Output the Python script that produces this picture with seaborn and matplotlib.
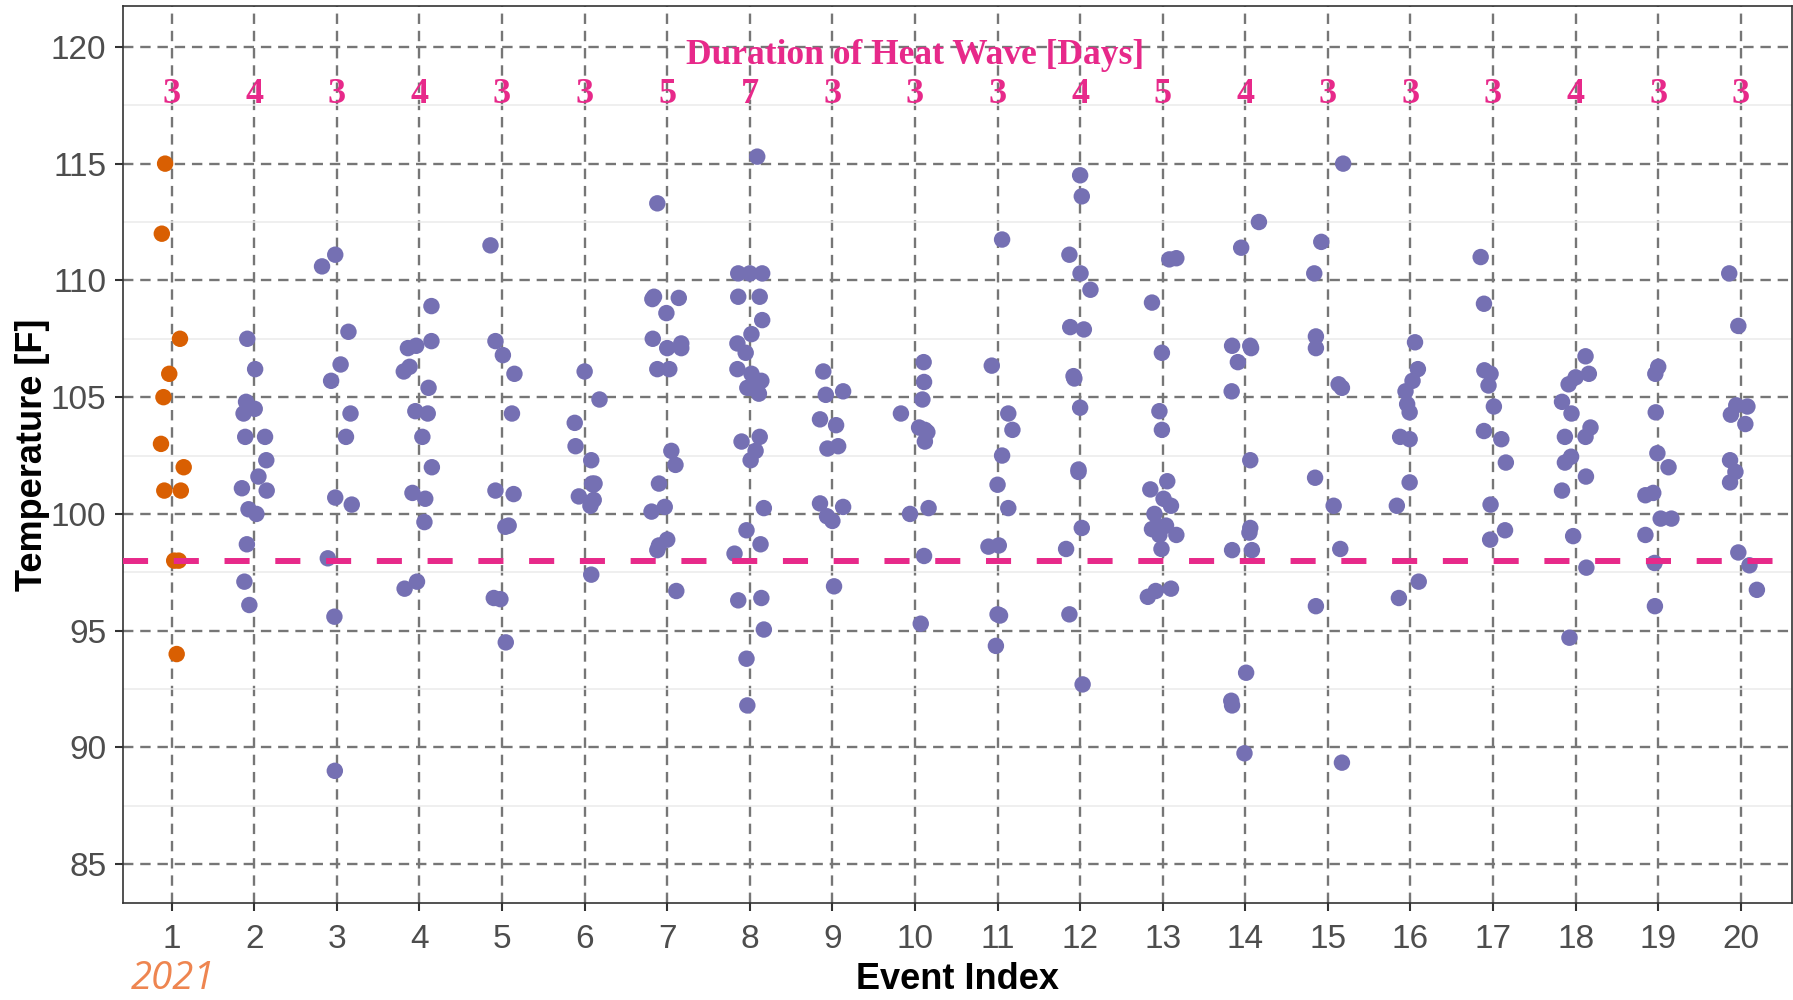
import matplotlib
matplotlib.use("Agg")
import matplotlib.pyplot as plt
import seaborn as sns
import pandas as pd

# ---------------- data ----------------
# each event: list of (temperature [F], horizontal jitter)
ev01 = [(115.0,-0.08),(112.0,-0.12),(107.5,0.10),(106.0,-0.03),(105.0,-0.10),(103.0,-0.13),(102.0,0.145),(101.0,-0.09),(101.0,0.11),(98.0,0.03),(98.0,0.085),(94.0,0.06)]
ev02 = [(107.5,-0.085),(106.2,0.01),(104.8,-0.10),(104.3,-0.13),(104.5,0.005),(103.3,-0.11),(103.3,0.13),(102.3,0.145),(101.6,0.05),(101.1,-0.15),(101.0,0.15),(100.2,-0.07),(100.0,0.025),(98.7,-0.09),(97.1,-0.12),(96.1,-0.06)]
ev03 = [(111.1,-0.02),(110.6,-0.18),(107.8,0.14),(106.4,0.045),(105.7,-0.07),(104.3,0.165),(103.3,0.11),(100.7,-0.02),(100.4,0.18),(98.1,-0.11),(95.6,-0.03),(89.0,-0.025)]
ev04 = [(108.9,0.145),(107.1,-0.14),(107.2,-0.04),(107.4,0.145),(106.3,-0.12),(106.1,-0.19),(105.4,0.11),(104.4,-0.05),(104.3,0.10),(103.3,0.035),(102.0,0.15),(100.9,-0.085),(100.65,0.07),(99.65,0.06),(97.1,-0.03),(96.8,-0.18)]
ev05 = [(111.5,-0.14),(107.4,-0.08),(106.8,0.01),(106.0,0.15),(104.3,0.12),(101.0,-0.08),(100.85,0.14),(99.45,0.04),(99.5,0.08),(96.4,-0.10),(96.35,-0.02),(94.5,0.045)]
ev06 = [(106.1,0.0),(104.9,0.18),(103.9,-0.12),(102.9,-0.11),(102.3,0.08),(101.3,0.12),(101.3,0.09),(101.25,0.105),(100.75,-0.07),(100.6,0.11),(100.35,0.07),(97.4,0.08)]
ev07 = [(113.3,-0.12),(109.2,-0.18),(109.3,-0.16),(109.25,0.14),(108.6,-0.01),(107.5,-0.175),(107.3,0.17),(107.1,0.17),(107.1,0.0),(106.2,-0.12),(106.2,0.025),(102.7,0.05),(102.1,0.10),(101.3,-0.10),(100.3,-0.03),(100.1,-0.19),(98.9,0.0),(98.65,-0.10),(98.45,-0.12),(96.7,0.11)]
ev08 = [(115.3,0.09),(110.3,-0.14),(110.3,0.0),(110.3,0.15),(109.3,-0.14),(109.3,0.12),(108.3,0.15),(107.7,0.02),(107.3,-0.15),(106.9,-0.05),(106.2,-0.15),(106.0,0.02),(105.7,0.14),(105.4,0.01),(105.15,0.11),(105.4,-0.03),(103.1,-0.10),(103.3,0.12),(102.7,0.07),(102.3,0.01),(100.25,0.17),(99.3,-0.04),(98.3,-0.185),(98.7,0.13),(96.3,-0.14),(96.4,0.14),(95.05,0.17),(93.8,-0.04),(91.8,-0.03)]
ev09 = [(106.1,-0.11),(105.1,-0.08),(105.25,0.13),(104.05,-0.15),(103.8,0.045),(102.8,-0.06),(102.9,0.07),(100.45,-0.15),(100.3,0.13),(99.9,-0.065),(99.7,0.0),(96.9,0.02)]
ev10 = [(106.5,0.105),(105.65,0.11),(104.9,0.09),(104.3,-0.17),(103.7,0.05),(103.5,0.15),(103.6,0.12),(103.1,0.12),(100.0,-0.06),(100.25,0.165),(98.2,0.11),(95.3,0.07)]
ev11 = [(111.75,0.055),(106.35,-0.07),(104.3,0.13),(103.6,0.18),(102.5,0.055),(101.25,0.0),(100.25,0.13),(98.6,-0.11),(98.65,0.015),(95.7,0.0),(95.65,0.03),(94.35,-0.02)]
ev12 = [(114.5,0.0),(113.6,0.02),(111.1,-0.13),(110.3,0.005),(109.6,0.125),(108.0,-0.12),(107.9,0.045),(105.9,-0.08),(105.8,-0.07),(104.55,0.0),(101.9,-0.02),(101.8,-0.02),(99.4,0.02),(98.5,-0.17),(95.7,-0.13),(92.7,0.03)]
ev13 = [(110.9,0.08),(110.95,0.165),(109.05,-0.13),(106.9,-0.01),(104.4,-0.04),(103.6,-0.01),(101.4,0.055),(101.05,-0.15),(100.65,0.01),(100.35,0.10),(100.0,-0.10),(99.45,-0.06),(99.5,0.04),(99.35,-0.13),(99.1,-0.04),(99.1,0.165),(98.5,-0.015),(96.45,-0.18),(96.7,-0.085),(96.8,0.10)]
ev14 = [(112.5,0.165),(111.4,-0.05),(107.2,-0.16),(107.2,0.06),(107.1,0.07),(106.5,-0.09),(105.25,-0.165),(102.3,0.06),(99.4,0.06),(99.2,0.05),(98.45,-0.16),(98.45,0.08),(93.2,0.01),(92.0,-0.17),(91.8,-0.16),(89.75,-0.01)]
ev15 = [(115.0,0.185),(111.65,-0.08),(110.3,-0.165),(107.6,-0.145),(107.1,-0.145),(105.55,0.13),(105.4,0.17),(101.55,-0.155),(100.35,0.07),(98.5,0.15),(96.05,-0.145),(89.35,0.17)]
ev16 = [(107.35,0.055),(106.2,0.09),(105.7,0.025),(105.25,-0.06),(104.7,-0.04),(104.35,-0.01),(103.3,-0.125),(103.2,-0.01),(101.35,-0.01),(100.35,-0.165),(96.4,-0.14),(97.1,0.10)]
ev17 = [(111.0,-0.15),(109.0,-0.11),(106.15,-0.105),(106.0,-0.03),(105.5,-0.055),(104.6,0.01),(103.55,-0.11),(103.2,0.10),(102.2,0.155),(100.4,-0.03),(99.3,0.145),(98.9,-0.035)]
ev18 = [(106.75,0.12),(105.85,0.0),(105.55,-0.085),(106.0,0.16),(104.8,-0.165),(104.3,-0.05),(103.7,0.18),(103.3,-0.13),(103.3,0.12),(102.2,-0.13),(102.45,-0.055),(101.0,-0.165),(101.6,0.125),(99.05,-0.03),(97.7,0.13),(94.7,-0.075)]
ev19 = [(106.3,0.0),(106.0,-0.035),(104.35,-0.03),(102.6,-0.01),(102.0,0.125),(100.8,-0.155),(100.9,-0.06),(99.8,0.03),(99.8,0.16),(99.1,-0.155),(97.9,-0.045),(96.05,-0.04)]
ev20 = [(110.3,-0.14),(108.05,-0.03),(104.65,-0.055),(104.25,-0.12),(104.6,0.08),(103.85,0.055),(102.3,-0.13),(101.8,-0.065),(101.35,-0.13),(98.35,-0.03),(97.8,0.105),(96.75,0.195)]

events = [ev01, ev02, ev03, ev04, ev05, ev06, ev07, ev08, ev09, ev10,
          ev11, ev12, ev13, ev14, ev15, ev16, ev17, ev18, ev19, ev20]
durations = [3, 4, 3, 4, 3, 3, 5, 7, 3, 3, 3, 4, 5, 4, 3, 3, 3, 4, 3, 3]
event_ticks = list(range(1, 21))
y_ticks = [85, 90, 95, 100, 105, 110, 115, 120]
threshold = 98
highlight_event = 1
year_label = "2021"
title_text = "Duration of Heat Wave [Days]"

# ---------------- build table ----------------
rows = []
for idx, ev in enumerate(events, start=1):
    for temp, jit in ev:
        rows.append({"event": idx, "x": idx + jit, "temp": temp,
                     "grp": "hl" if idx == highlight_event else "rest"})
df = pd.DataFrame(rows)

# ---------------- style ----------------
sns.set_theme(style="white")
plt.rcParams["font.family"] = ["Liberation Sans", "DejaVu Sans"]

ORANGE = "#D95F02"
PURPLE = "#7570B3"
PINK = "#E7298A"
GRID = "#767676"

fig = plt.figure(figsize=(17.93, 10.0), dpi=100)
ax = fig.add_axes([123 / 1793, 1 - 903 / 1000, (1792 - 123) / 1793, (903 - 6) / 1000])

sns.scatterplot(data=df, x="x", y="temp", hue="grp",
                palette={"hl": ORANGE, "rest": PURPLE},
                s=140, linewidth=0, alpha=1, legend=False, ax=ax, zorder=3)

ax.axhline(threshold, color=PINK, lw=4.3, linestyle=(0, (4.2, 4.3)), zorder=4)

# duration labels
serif = ["Liberation Serif", "DejaVu Serif"]
for e, d in zip(event_ticks, durations):
    ax.text(e, 117.95, str(d), color=PINK, fontsize=26, fontweight="bold",
            family=serif, ha="center", va="center", zorder=5)
ax.text(10, 119.65, title_text, color=PINK, fontsize=25.5, fontweight="bold",
        family=serif, ha="center", va="center", zorder=5)

# axes
ax.set_xlim(0.41, 20.62)
ax.set_ylim(83.34, 121.75)
ax.set_xticks(event_ticks)
ax.set_xticklabels([str(t) for t in event_ticks])
ax.set_yticks(y_ticks)
ax.set_yticks([87.5, 92.5, 97.5, 102.5, 107.5, 112.5, 117.5], minor=True)
ax.set_axisbelow(True)
ax.grid(which="major", axis="both", color=GRID, lw=1.7, linestyle=(0, (4.4, 2.9)))
ax.yaxis.grid(which="minor", color="#EBEBEB", lw=1.1, linestyle="-")

ax.tick_params(axis="both", which="major", labelsize=24, labelcolor="#4D4D4D",
               color="#333333", length=6, width=1.5, direction="out",
               left=True, bottom=True)
ax.tick_params(axis="x", pad=9)
ax.tick_params(axis="y", pad=6)
ax.tick_params(which="minor", length=0)

for sp in ax.spines.values():
    sp.set_visible(True)
    sp.set_color("#333333")
    sp.set_linewidth(1.2)

ax.set_xlabel("Event Index", fontsize=26, fontweight="bold", color="black")
ax.set_ylabel("Temperature [F]", fontsize=26, fontweight="bold", color="black")
ax.xaxis.set_label_coords(0.5, -0.0858)
ax.xaxis.label.set_va("center")
ax.yaxis.set_label_coords(-0.0545, 0.5)
ax.yaxis.label.set_va("center")

fig.text(131 / 1793, 1 - 960 / 1000, year_label, color="#EE8550", fontsize=27.5,
         fontstyle="italic", family=["Open Sans", "DejaVu Sans"], ha="left", va="top")

fig.savefig("out.png", dpi=100)
